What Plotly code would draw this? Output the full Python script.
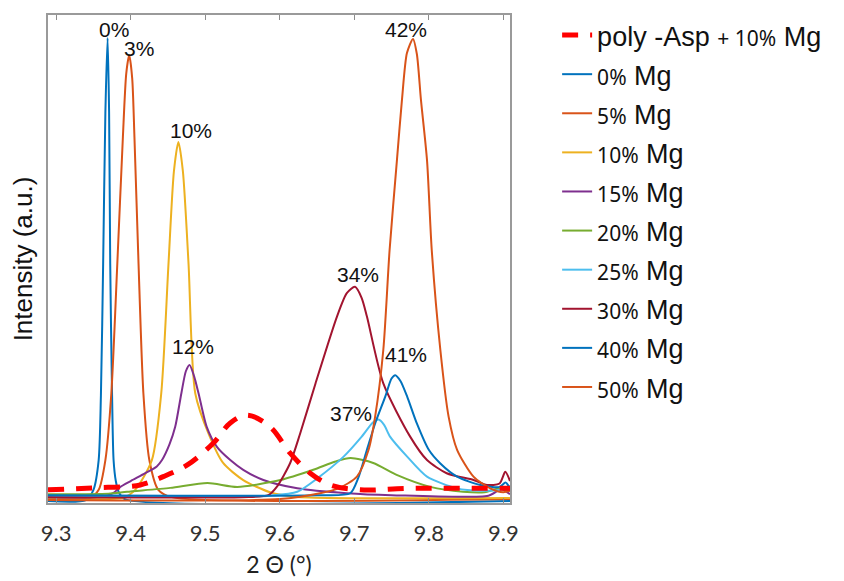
import plotly.graph_objects as go

# ---------------- data ----------------
x_mg0 = [9.289, 9.340, 9.350, 9.357, 9.360, 9.363, 9.366, 9.369, 9.371, 9.3725, 9.375, 9.377, 9.380, 9.384, 9.392, 9.909]
y_mg0 = [0.4, 0.6, 2.7, 8.8, 22, 49, 80, 95.3, 80, 49, 22, 8.8, 4.5, 2.2, 0.8, 0.4]

x_mg5 = [9.289, 9.345, 9.357, 9.366, 9.374, 9.382, 9.3895, 9.394, 9.398, 9.402, 9.405, 9.4105, 9.417, 9.425, 9.437, 9.455, 9.909]
y_mg5 = [0.8, 1.0, 2.7, 8.8, 22.5, 49, 75, 88, 91.8, 87, 75, 49, 22.5, 8.8, 2.7, 1.2, 0.8]

x_mg10 = [9.289, 9.390, 9.406, 9.4284, 9.441, 9.4507, 9.458, 9.464, 9.470, 9.4776, 9.4866, 9.505, 9.524, 9.551, 9.587, 9.62, 9.909]
y_mg10 = [1.0, 1.1, 2.7, 8.8, 22.5, 49, 68, 74, 68, 49, 22.5, 14, 8.2, 4.7, 2.2, 1.3, 1.0]

x_mg15 = [9.289, 9.360, 9.3765, 9.386, 9.400, 9.4195, 9.435, 9.442, 9.452, 9.4597, 9.468, 9.474, 9.479, 9.485, 9.491, 9.502,
          9.5157, 9.5336, 9.551, 9.578, 9.6235, 9.69, 9.75, 9.88, 9.897, 9.909]
y_mg15 = [1.2, 1.3, 2.0, 3.3, 4.5, 6.1, 7.5, 8.8, 12, 15.6, 22.5, 27, 28.3, 26, 22.5, 15.6,
          11.5, 8.8, 6.8, 4.7, 3.0, 2.0, 1.6, 1.5, 2.8, 1.8]

x_mg20 = [9.289, 9.37, 9.395, 9.453, 9.503, 9.543, 9.601, 9.645, 9.675, 9.695, 9.7255, 9.7577, 9.802, 9.846, 9.875, 9.892, 9.909]
y_mg20 = [1.8, 1.9, 2.3, 3.1, 4.1, 3.3, 4.7, 6.8, 8.5, 9.2, 8.2, 5.7, 3.3, 2.3, 2.2, 2.9, 2.5]

x_mg25 = [9.289, 9.55, 9.587, 9.6235, 9.650, 9.6857, 9.710, 9.725, 9.7326, 9.740, 9.748, 9.771, 9.7976, 9.838, 9.870, 9.896, 9.909]
y_mg25 = [1.3, 1.3, 1.5, 2.3, 5.0, 9.5, 13.6, 16.5, 17.1, 16, 13.6, 9.5, 5.4, 3.0, 2.5, 2.7, 3.5]

x_mg30 = [9.289, 9.55, 9.5846, 9.596, 9.614, 9.6275, 9.648, 9.6768, 9.690, 9.701, 9.710, 9.717, 9.739, 9.775, 9.7976,
          9.824, 9.860, 9.878, 9.895, 9.9027, 9.909]
y_mg30 = [1.2, 1.2, 1.6, 3.3, 8.2, 14.3, 24.5, 38.2, 43, 44.3, 42, 38.2, 24.5, 13.6, 8.8,
          6.1, 4.7, 3.7, 4.0, 6.4, 4.5]

x_mg40 = [9.289, 9.65, 9.6946, 9.705, 9.717, 9.728, 9.7416, 9.750, 9.755, 9.762, 9.771, 9.784, 9.800, 9.8155, 9.838,
          9.869, 9.895, 9.903, 9.909]
y_mg40 = [1.6, 1.6, 2.0, 5.0, 10.9, 16.3, 21.8, 25.5, 26.2, 25, 21.8, 16.3, 10.9, 8.1, 5.4,
          3.7, 3.3, 4.2, 3.0]

x_mg50 = [9.289, 9.60, 9.654, 9.679, 9.7036, 9.7192, 9.728, 9.739, 9.7474, 9.7573, 9.764, 9.7707, 9.7788, 9.7840,
          9.7895, 9.7976, 9.804, 9.8155, 9.8266, 9.838, 9.860, 9.8826, 9.900, 9.909]
y_mg50 = [0.6, 0.8, 2.0, 3.0, 5.4, 10.9, 17.7, 31.4, 51.8, 70.3, 82.6, 92.2, 95.1, 92,
          82.6, 70.3, 51.8, 31.4, 17.7, 10.9, 5.4, 3.0, 2.2, 2.5]

x_asp = [9.289, 9.35, 9.4128, 9.4436, 9.476, 9.511, 9.5336, 9.556, 9.587, 9.614, 9.641, 9.668, 9.708, 9.775, 9.909]
y_asp = [2.7, 3.1, 3.7, 5.4, 7.8, 12.3, 16.4, 18.0, 15.6, 10.2, 6.1, 3.7, 2.7, 3.0, 3.0]

series_names = ["0%", "5%", "10%", "15%", "20%", "25%", "30%", "40%", "50%"]
series_x = [x_mg0, x_mg5, x_mg10, x_mg15, x_mg20, x_mg25, x_mg30, x_mg40, x_mg50]
series_y = [y_mg0, y_mg5, y_mg10, y_mg15, y_mg20, y_mg25, y_mg30, y_mg40, y_mg50]
series_colors = ["#0072BD", "#D95319", "#EDB120", "#7E2F8E", "#77AC30", "#4DBEEE", "#A2142F", "#0072BD", "#D95319"]

peak_labels = ["0%", "3%", "10%", "12%", "34%", "41%", "37%", "42%"]
peak_label_x = [9.378, 9.411, 9.481, 9.484, 9.705, 9.770, 9.695, 9.770]
peak_label_y = [97.1, 93.2, 76.4, 32.0, 46.9, 30.5, 18.4, 97.1]

x_ticks = [9.3, 9.4, 9.5, 9.6, 9.7, 9.8, 9.9]

# ---------------- figure ----------------
fig = go.Figure()
for i, (nm, xs, ys, c) in enumerate(zip(series_names, series_x, series_y, series_colors)):
    fig.add_trace(go.Scatter(
        x=xs, y=ys, mode="lines",
        line=dict(color=c, width=2, shape="spline", smoothing=0.7),
        name=f"<span style='font-size:21px;font-family:Noto Sans'>{nm}</span> Mg",
        legendgroup=f"g{i}", legendrank=10 + i,
    ))

fig.add_trace(go.Scatter(
    x=x_asp, y=y_asp, mode="lines",
    line=dict(color="#FF0000", width=5, dash="16px,12px", shape="spline", smoothing=1.0),
    name="poly -Asp <span style='font-size:21px;font-family:Noto Sans'>+ 10%</span> Mg",
    legendgroup="asp", legendrank=1,
))

for t, lx, ly in zip(peak_labels, peak_label_x, peak_label_y):
    fig.add_annotation(x=lx, y=ly, text=t, showarrow=False,
                       font=dict(family="Liberation Sans, Arial", size=21, color="#111111"),
                       xanchor="center", yanchor="middle")

fig.update_layout(
    width=844, height=581,
    margin=dict(l=40, r=342, t=7, b=86, autoexpand=False),
    paper_bgcolor="white", plot_bgcolor="white",
    showlegend=True,
    legend=dict(
        x=1.102, y=0.9948, yref="container", xanchor="left", yanchor="top",
        font=dict(family="Liberation Sans, Arial", size=27, color="#111111"),
        tracegroupgap=1, bgcolor="rgba(0,0,0,0)", maxheight=560,
    ),
    font=dict(family="Liberation Sans, Arial", color="#222222"),
)

fig.update_xaxes(
    range=[9.289, 9.909], tickvals=x_ticks, ticktext=[f"{v:.1f}" for v in x_ticks],
    ticks="inside", ticklen=5, tickcolor="#8c8c8c",
    showline=True, linecolor="#9a9a9a", linewidth=1.5, mirror="ticks",
    showgrid=False, zeroline=False, automargin=False,
    tickfont=dict(family="Lato, Liberation Sans", size=22, color="#333333"),
    ticklabelstandoff=10,
    title=dict(text="2 Θ (°)", font=dict(family="Lato, Liberation Sans", size=23, color="#222222"), standoff=12),
)
fig.update_yaxes(
    range=[0, 100], showticklabels=False, ticks="",
    showline=True, linecolor="#9a9a9a", linewidth=1.5, mirror=True,
    showgrid=False, zeroline=False, automargin=False,
    title=dict(text="Intensity (a.u.)", font=dict(family="Liberation Sans, Arial", size=26, color="#111111"), standoff=7),
)

fig.write_html("out.html")
